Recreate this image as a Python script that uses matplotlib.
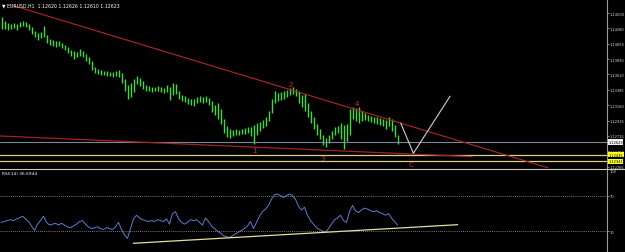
import matplotlib
matplotlib.use("Agg")
import matplotlib.pyplot as plt
import matplotlib.transforms as mtransforms

# ---------------- data ----------------
symbol_header = "\u25BC EURUSD,H1  1.12620 1.12626 1.12610 1.12623"
rsi_header = "RSI(14) 36.6944"

bar_high = [1.1444, 1.1438, 1.1435, 1.1434, 1.1435, 1.1434, 1.1437, 1.1438, 1.1437, 1.1434,
            1.1430, 1.1424, 1.1421, 1.1422, 1.1431, 1.1418, 1.1412, 1.1411, 1.1409, 1.1409,
            1.1406, 1.1403, 1.1401, 1.1396, 1.1395, 1.1393, 1.1398, 1.1395, 1.1390, 1.1386,
            1.1380, 1.1372, 1.1369, 1.1367, 1.1366, 1.1366, 1.1364, 1.1364, 1.1366, 1.1367,
            1.1363, 1.1354, 1.1345, 1.1348, 1.1354, 1.1358, 1.1355, 1.1351, 1.1345, 1.1344,
            1.1342, 1.1342, 1.1344, 1.1342, 1.1341, 1.1345, 1.1342, 1.1348, 1.1347, 1.1337,
            1.1331, 1.1329, 1.1326, 1.1325, 1.1325, 1.1328, 1.1329, 1.1328, 1.1329, 1.1326,
            1.1322, 1.1316, 1.1319, 1.1310, 1.1296, 1.1286, 1.1281, 1.1280, 1.1281, 1.1280,
            1.1281, 1.1283, 1.1284, 1.1284, 1.1287, 1.1290, 1.1291, 1.1294, 1.1299, 1.1307,
            1.1325, 1.1337, 1.1334, 1.1335, 1.1337, 1.1338, 1.1341, 1.1342, 1.1339, 1.1337,
            1.1331, 1.1332, 1.1319, 1.1307, 1.1299, 1.1289, 1.1281, 1.1273, 1.1268, 1.1273,
            1.1278, 1.1284, 1.1286, 1.1290, 1.1287, 1.1289, 1.1310, 1.1313, 1.1312, 1.1313,
            1.1307, 1.1305, 1.1302, 1.1300, 1.1299, 1.1299, 1.1297, 1.1296, 1.1294, 1.1299,
            1.1296, 1.1287, 1.1273]
bar_low = [1.1427, 1.1427, 1.1425, 1.1427, 1.1428, 1.1425, 1.1430, 1.1431, 1.1430, 1.1425,
           1.1419, 1.1415, 1.1411, 1.1414, 1.1415, 1.1406, 1.1403, 1.1402, 1.1401, 1.1402,
           1.1399, 1.1396, 1.1392, 1.1387, 1.1383, 1.1386, 1.1387, 1.1386, 1.1380, 1.1376,
           1.1367, 1.1363, 1.1361, 1.1360, 1.1360, 1.1358, 1.1358, 1.1357, 1.1358, 1.1357,
           1.1348, 1.1337, 1.1325, 1.1328, 1.1335, 1.1347, 1.1344, 1.1339, 1.1337, 1.1337,
           1.1335, 1.1337, 1.1337, 1.1335, 1.1334, 1.1335, 1.1323, 1.1331, 1.1332, 1.1325,
           1.1322, 1.1321, 1.1318, 1.1316, 1.1315, 1.1319, 1.1321, 1.1319, 1.1321, 1.1316,
           1.1306, 1.1302, 1.1296, 1.1289, 1.1275, 1.1270, 1.1268, 1.1271, 1.1273, 1.1273,
           1.1274, 1.1274, 1.1275, 1.1271, 1.1259, 1.1273, 1.1278, 1.1283, 1.1286, 1.1293,
           1.1305, 1.1319, 1.1322, 1.1323, 1.1325, 1.1328, 1.1331, 1.1332, 1.1329, 1.1319,
           1.1313, 1.1307, 1.1299, 1.1290, 1.1281, 1.1273, 1.1267, 1.1258, 1.1255, 1.1261,
           1.1267, 1.1273, 1.1275, 1.1267, 1.1252, 1.1264, 1.1273, 1.1296, 1.1293, 1.1290,
           1.1293, 1.1294, 1.1293, 1.1291, 1.1290, 1.1289, 1.1287, 1.1286, 1.1281, 1.1286,
           1.1278, 1.1270, 1.1259]
rsi_values = [40, 41, 42, 43, 42, 44, 45, 47, 44, 41,
              36, 31, 38, 42, 47, 40, 37, 38, 39, 37,
              39, 37, 35, 34, 36, 38, 41, 42, 38, 35,
              33, 34, 35, 33, 32, 34, 33, 32, 35, 40,
              32, 26, 22, 33, 44, 48, 45, 43, 42, 41,
              42, 41, 43, 42, 41, 44, 38, 50, 52, 44,
              40, 38, 40, 43, 42, 43, 40, 37, 45, 41,
              36, 33, 30, 28, 25, 24, 23, 25, 27, 29,
              31, 33, 36, 41, 33, 40, 47, 52, 55, 59,
              66, 71, 72, 70, 68, 70, 72, 70, 66, 58,
              54, 57, 48, 42, 38, 34, 32, 30, 29, 33,
              38, 43, 45, 48, 42, 40, 52, 59, 53, 51,
              54, 56, 55, 53, 52, 53, 51, 50, 48, 50,
              45, 41, 37]

price_ticks = [1.14500, 1.14280, 1.14055, 1.13830, 1.13610, 1.13385,
               1.13160, 1.12935, 1.12715, 1.12490, 1.12265]
current_price = 1.12623
level_prices = [1.12435, 1.12341]
rsi_levels = [70, 30]

# drawn objects (bar index, price)
upper_trend_x = [3, 182]
upper_trend_y = [1.1462, 1.1225]
lower_trend_x = [-0.5, 156.8]
lower_trend_y = [1.12711, 1.12410]
zigzag_x = [133.1, 137.3, 149.5]
zigzag_y = [1.12895, 1.12459, 1.13288]
wave_labels = ["1", "2", "3", "4", "C"]
wave_x = [84.2, 96.5, 107.2, 118.5, 136.5]
wave_y = [1.12507, 1.13467, 1.12391, 1.13191, 1.12303]
rsi_trend_x = [44, 152]
rsi_trend_y = [16.5, 37.4]

# ---------------- figure ----------------
W, H = 625, 253
fig = plt.figure(figsize=(W / 100, H / 100), dpi=100, facecolor="black")

axis_x = 607
main_top, main_bot = 0, 169
rsi_top, rsi_bot = 170, 253

ax = fig.add_axes([0, 1 - main_bot / H, axis_x / W, (main_bot - main_top) / H])
ax2 = fig.add_axes([0, 0, axis_x / W, (rsi_bot - rsi_top) / H])

GRAY = "#9a9a9a"
LS = 2.6
for a in (ax, ax2):
    a.set_facecolor("black")
    for s in ("left", "top", "bottom"):
        a.spines[s].set_visible(False)
    a.spines["right"].set_color(GRAY)
    a.spines["right"].set_linewidth(0.8)
    a.yaxis.tick_right()
    a.tick_params(axis="y", colors=GRAY, labelcolor="#d8d8d8", length=1.5, width=0.6,
                  labelsize=LS, pad=0.6)
    a.set_xticks([])
    a.set_xlim(-0.5, 201.83)

idx = list(range(len(bar_high)))

# main panel
ax.set_ylim(1.12245, 1.14704)
ax.vlines(idx, bar_low, bar_high, color="#3fdc3f", lw=1.0)
ax.axhline(current_price, color="#7b8699", lw=0.8)
for lv in level_prices:
    ax.axhline(lv, color="#d8cf8a", lw=0.9)
ax.plot(upper_trend_x, upper_trend_y, color="#b3262a", lw=0.8)
ax.plot(lower_trend_x, lower_trend_y, color="#a0222a", lw=0.9)
ax.plot(zigzag_x, zigzag_y, color="#d0d0d0", lw=0.8)
for t, x, y in zip(wave_labels, wave_x, wave_y):
    ax.text(x, y, t, color="#e0262a", fontsize=5, ha="center", va="center")

ax.set_yticks(price_ticks)
ax.set_yticklabels([f"{p:.5f}" for p in price_ticks])

trans = mtransforms.blended_transform_factory(ax.transAxes, ax.transData)
ax.text(1.002, current_price, f"{current_price:.5f}", transform=trans, fontsize=LS,
        color="black", va="center", ha="left",
        bbox=dict(boxstyle="square,pad=0.15", fc="#f0f0f0", ec="none"))
for lv in level_prices:
    ax.text(1.002, lv, f"{lv:.5f}", transform=trans, fontsize=LS, color="black",
            va="center", ha="left",
            bbox=dict(boxstyle="square,pad=0.15", fc="#ffff20", ec="none"))

ax.text(0.003, 0.965, symbol_header, transform=ax.transAxes, color="white",
        fontsize=3.3, ha="left", va="center")

# rsi panel
ax2.set_ylim(6.7, 100)
ax2.plot(idx, rsi_values, color="#5a7fd0", lw=0.7)
for lv in rsi_levels:
    ax2.axhline(lv, color="#a0a0a0", lw=0.6, ls=(0, (1, 1.5)))
ax2.plot(rsi_trend_x, rsi_trend_y, color="#e6dfa0", lw=0.9)
ax2.set_yticks([100, 70, 30])
ax2.set_yticklabels(["100", "70", "30"])
ax2.get_yticklabels()[0].set_va("top")
ax2.text(0.004, 0.955, rsi_header, transform=ax2.transAxes, color="white",
         fontsize=3.2, ha="left", va="center")

# separator line between panels
fig.add_artist(plt.Line2D([0, 1], [1 - 169.5 / H] * 2, color="#c8c8c8", lw=0.8,
                          transform=fig.transFigure))

fig.savefig("out.png", dpi=100, facecolor="black")
